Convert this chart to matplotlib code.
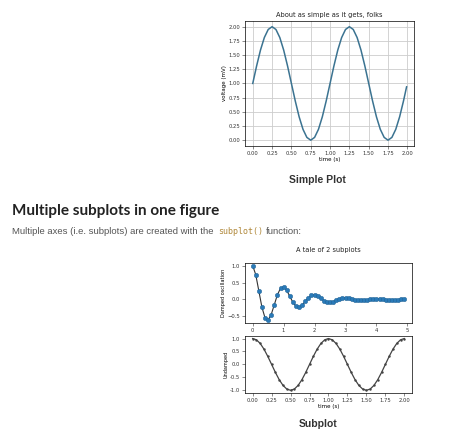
import matplotlib
matplotlib.use("Agg")
import matplotlib.pyplot as plt

time_s = [0.00,0.05,0.10,0.15,0.20,0.25,0.30,0.35,0.40,0.45,0.50,0.55,0.60,0.65,0.70,0.75,0.80,0.85,0.90,0.95,
          1.00,1.05,1.10,1.15,1.20,1.25,1.30,1.35,1.40,1.45,1.50,1.55,1.60,1.65,1.70,1.75,1.80,1.85,1.90,1.95,1.99]
voltage = [1.0,1.309,1.588,1.809,1.951,2.0,1.951,1.809,1.588,1.309,1.0,0.691,0.412,0.191,0.049,0.0,0.049,0.191,0.412,0.691,
           1.0,1.309,1.588,1.809,1.951,2.0,1.951,1.809,1.588,1.309,1.0,0.691,0.412,0.191,0.049,0.0,0.049,0.191,0.412,0.691,0.94]

t_damped = [round(i*0.1, 1) for i in range(50)]
damped = [1.0,0.732,0.253,-0.229,-0.542,-0.607,-0.444,-0.154,0.139,0.329,
          0.368,0.269,0.093,-0.084,-0.200,-0.223,-0.163,-0.056,0.051,0.121,
          0.135,0.099,0.034,-0.031,-0.073,-0.082,-0.060,-0.021,0.019,0.045,
          0.050,0.036,0.013,-0.011,-0.027,-0.030,-0.022,-0.008,0.007,0.016,
          0.018,0.013,0.005,-0.004,-0.010,-0.011,-0.008,-0.003,0.003,0.006]

t_undamped = [round(i*0.05, 2) for i in range(41)]
undamped = [1.0,0.951,0.809,0.588,0.309,0.0,-0.309,-0.588,-0.809,-0.951,-1.0,-0.951,-0.809,-0.588,-0.309,0.0,0.309,0.588,0.809,0.951,
            1.0,0.951,0.809,0.588,0.309,0.0,-0.309,-0.588,-0.809,-0.951,-1.0,-0.951,-0.809,-0.588,-0.309,0.0,0.309,0.588,0.809,0.951,1.0]

fig = plt.figure(figsize=(4.74, 4.38), dpi=100)
fs = 4
tick_kw = dict(labelsize=3.8, length=2, width=0.4, pad=1.5, colors='#333333')

ax1 = fig.add_axes([0.517, 0.667, 0.357, 0.285])
ax1.plot(time_s, voltage, color='#3b7391', lw=1.1)
ax1.set_title('About as simple as it gets, folks', fontsize=4.8, pad=3, color='#222222')
ax1.set_xlabel('time (s)', fontsize=fs, labelpad=1)
ax1.set_ylabel('voltage (mV)', fontsize=fs, labelpad=1)
ax1.set_xticks([0,0.25,0.5,0.75,1.0,1.25,1.5,1.75,2.0])
ax1.set_yticks([0,0.25,0.5,0.75,1.0,1.25,1.5,1.75,2.0])
ax1.xaxis.set_major_formatter(matplotlib.ticker.FormatStrFormatter('%.2f'))
ax1.yaxis.set_major_formatter(matplotlib.ticker.FormatStrFormatter('%.2f'))
ax1.grid(True, color='#cccccc', lw=0.6)
ax1.tick_params(**tick_kw)

ax2 = fig.add_axes([0.517, 0.263, 0.352, 0.137])
ax2.plot(t_damped, damped, 'o-', color='#333333', lw=0.8, ms=3.2, mfc='#2a7ab8', mec='#1f5f8f', mew=0.3)
ax2.set_ylabel('Damped oscillation', fontsize=3.6, labelpad=1)
ax2.set_title('A tale of 2 subplots', fontsize=4.8, pad=8, color='#222222')
ax2.set_xticks([0,1,2,3,4,5])
ax2.set_yticks([-0.5,0.0,0.5,1.0])
ax2.tick_params(**tick_kw)

ax3 = fig.add_axes([0.517, 0.103, 0.352, 0.130])
ax3.plot(t_undamped, undamped, '.-', color='#444444', lw=0.9, ms=1.5)
ax3.set_xlabel('time (s)', fontsize=fs, labelpad=1)
ax3.set_ylabel('Undamped', fontsize=3.6, labelpad=1)
ax3.set_xticks([0,0.25,0.5,0.75,1.0,1.25,1.5,1.75,2.0])
ax3.set_yticks([-1.0,-0.5,0.0,0.5,1.0])
ax3.xaxis.set_major_formatter(matplotlib.ticker.FormatStrFormatter('%.2f'))
ax3.yaxis.set_major_formatter(matplotlib.ticker.FormatStrFormatter('%.1f'))
ax3.tick_params(**tick_kw)

for ax in (ax1, ax2, ax3):
    for s in ax.spines.values():
        s.set_linewidth(0.5)

fig.text(0.67, 1-180/438, 'Simple Plot', ha='center', va='center', fontsize=7.5, fontweight='bold', color='#333333', family='Liberation Sans')
fig.text(12/474, 1-211/438, 'Multiple subplots in one figure', ha='left', va='center', fontsize=11, fontweight='bold', color='#222222', family='Lato')
fig.text(12/474, 1-232/438, 'Multiple axes (i.e. subplots) are created with the', ha='left', va='center', fontsize=6.8, color='#555555', family='Liberation Sans')
fig.text(218/474, 1-232/438, 'subplot()', ha='left', va='center', fontsize=6, color='#b0883a', family='DejaVu Sans Mono')
fig.text(266/474, 1-232/438, 'function:', ha='left', va='center', fontsize=6.8, color='#555555', family='Liberation Sans')
fig.text(0.67, 1-424/438, 'Subplot', ha='center', va='center', fontsize=7.5, fontweight='bold', color='#333333', family='Liberation Sans')

fig.savefig('out.png', dpi=100)
